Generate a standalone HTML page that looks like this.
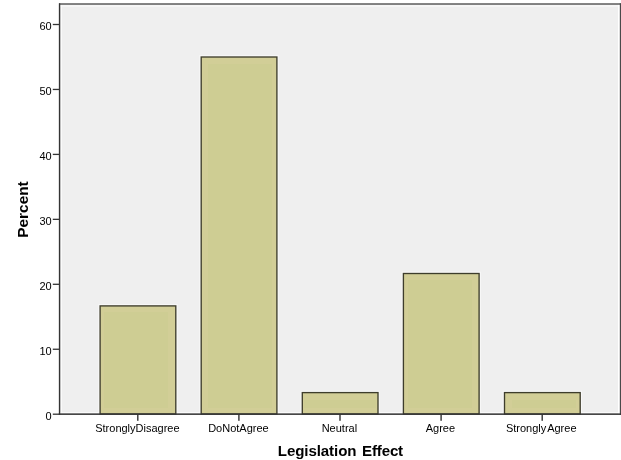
<!DOCTYPE html>
<html>
<head>
<meta charset="utf-8">
<title>Legislation Effect</title>
<style>
html,body{margin:0;padding:0;background:#fff;}
body{width:621px;height:460px;overflow:hidden;font-family:"Liberation Sans",sans-serif;}
svg{display:block;will-change:transform;}
text{font-family:"Liberation Sans",sans-serif;fill:#000;font-kerning:none;}
.tl{font-size:11px;}
.ti{font-size:14.67px;font-weight:bold;}
</style>
</head>
<body>
<svg width="621" height="460" viewBox="0 0 621 460">
  <rect x="0" y="0" width="621" height="460" fill="#ffffff"/>
  <!-- plot background -->
  <rect x="60" y="4" width="558" height="410" fill="#efefef"/>
  <rect x="60" y="5" width="558" height="2" fill="#f6f6f6"/>
  <rect x="61" y="5" width="1" height="408" fill="#fafafa"/>
  <rect x="60" y="412" width="558" height="1" fill="#fafafa"/>
  <!-- top & right frame -->
  <rect x="59" y="3.3" width="562" height="1.4" fill="#525252"/>
  <rect x="619.8" y="3.3" width="1.2" height="411.5" fill="#4a4a4a"/>
  <!-- bars -->
  <g fill="none" stroke="#f8f8f8" stroke-width="3.6">
    <rect x="100.1" y="305.9" width="75.7" height="106.1"/>
    <rect x="201.2" y="57.0" width="75.7" height="355.0"/>
    <rect x="302.3" y="392.6" width="75.7" height="19.4"/>
    <rect x="403.4" y="273.5" width="75.7" height="138.5"/>
    <rect x="504.5" y="392.6" width="75.7" height="19.4"/>
  </g>
  <g fill="#d2ce97" stroke="#3e3d2c" stroke-width="1.35">
    <rect x="100.1" y="305.9" width="75.7" height="108.1"/>
    <rect x="201.2" y="57.0" width="75.7" height="357.0"/>
    <rect x="302.3" y="392.6" width="75.7" height="21.4"/>
    <rect x="403.4" y="273.5" width="75.7" height="140.5"/>
    <rect x="504.5" y="392.6" width="75.7" height="21.4"/>
  </g>
  <g fill="#cecd93">
    <rect x="104" y="312" width="64" height="96"/>
    <rect x="208" y="64" width="64" height="344"/>
    <rect x="304" y="400" width="72" height="8"/>
    <rect x="408" y="280" width="64" height="128"/>
    <rect x="512" y="400" width="64" height="8"/>
  </g>
  <!-- axes -->
  <rect x="58.85" y="3.3" width="1.4" height="411.5" fill="#343434"/>
  <rect x="58.8" y="413.4" width="562.2" height="1.5" fill="#343434"/>
  <!-- y ticks -->
  <g fill="#343434">
    <rect x="52.8" y="413.55" width="6.2" height="1.3"/>
    <rect x="52.8" y="348.60" width="6.2" height="1.3"/>
    <rect x="52.8" y="283.65" width="6.2" height="1.3"/>
    <rect x="52.8" y="218.70" width="6.2" height="1.3"/>
    <rect x="52.8" y="153.75" width="6.2" height="1.3"/>
    <rect x="52.8" y="88.80" width="6.2" height="1.3"/>
    <rect x="52.8" y="23.85" width="6.2" height="1.3"/>
  </g>
  <!-- x ticks -->
  <g fill="#343434">
    <rect x="137.10" y="414" width="1.4" height="6.8"/>
    <rect x="238.20" y="414" width="1.4" height="6.8"/>
    <rect x="339.30" y="414" width="1.4" height="6.8"/>
    <rect x="440.40" y="414" width="1.4" height="6.8"/>
    <rect x="541.50" y="414" width="1.4" height="6.8"/>
  </g>
  <!-- y labels -->
  <g class="tl" text-anchor="end">
    <text x="51.7" y="419.8">0</text>
    <text x="51.7" y="354.9">10</text>
    <text x="51.7" y="289.9">20</text>
    <text x="51.7" y="224.9">30</text>
    <text x="51.7" y="160.0">40</text>
    <text x="51.7" y="95.1">50</text>
    <text x="51.7" y="30.1">60</text>
  </g>
  <!-- x labels -->
  <g class="tl" text-anchor="middle">
    <text x="137.4" y="431.8">StronglyDisagree</text>
    <text x="238.4" y="431.8">DoNotAgree</text>
    <text x="339.4" y="431.8">Neutral</text>
    <text x="440.4" y="431.8">Agree</text>
    <text x="541.2" y="431.8">Strongly<tspan dx="0.9">Agree</tspan></text>
  </g>
  <!-- titles -->
  <text class="ti" style="font-size:15.1px" x="277.8" y="456.3" letter-spacing="-0.1">Legislation</text>
  <text class="ti" style="font-size:15.1px" x="362.1" y="456.3" letter-spacing="-0.18">Effect</text>
  <text class="ti" style="font-size:15.4px" transform="translate(28,209.5) rotate(-90)" text-anchor="middle">Percent</text>
</svg>
</body>
</html>
